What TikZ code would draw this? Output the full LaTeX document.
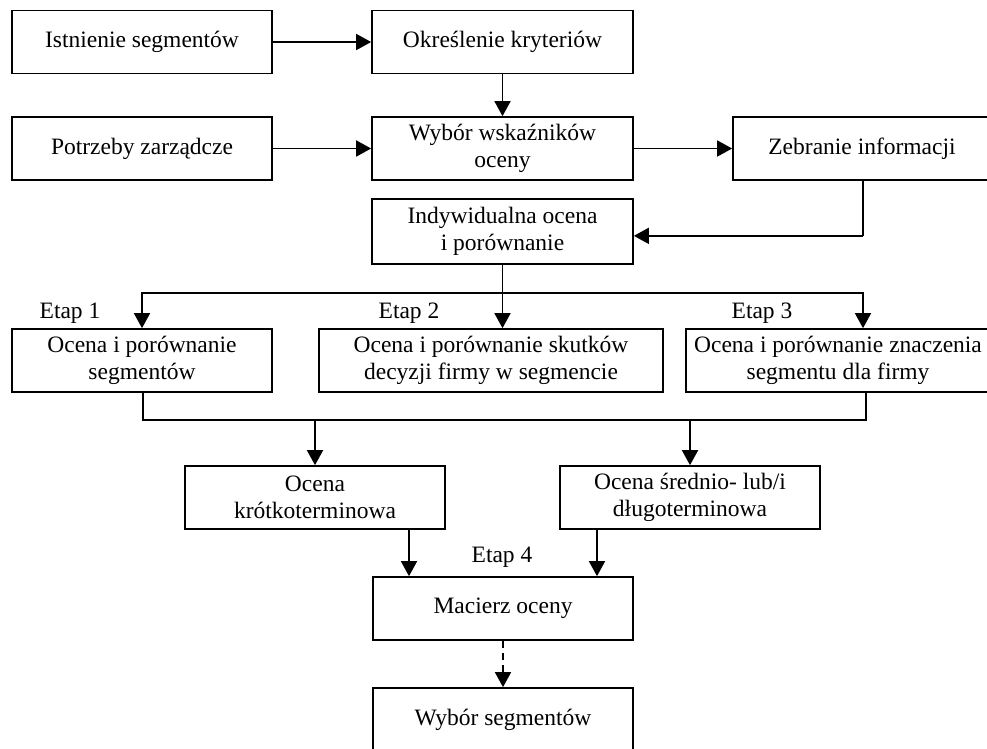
\documentclass[tikz,border=0pt]{standalone}
\usepackage{fontspec}
\setmainfont{Liberation Serif}
\usetikzlibrary{arrows.meta,calc}
\begin{document}
\begin{tikzpicture}[x=1pt,y=-1pt,
  box/.style={draw,line width=1.7pt,inner sep=0pt,align=center,
    font=\fontsize{23.5}{26.5}\selectfont,minimum height=63pt},
  lbl/.style={font=\fontsize{23.5}{26.5}\selectfont,inner sep=0pt},
  conn/.style={line width=1.7pt},
  arr/.style={line width=1.7pt,-{Triangle[length=15pt,width=16pt]}}]
\useasboundingbox (0,0) rectangle (987,748);
% top row
\node[box,minimum width=260pt] (ist) at (142,42) {Istnienie segmentów};
\node[box,minimum width=261pt] (okr) at (502.5,42) {Określenie kryteriów};
\node[box,minimum width=260pt] (pot) at (142,148.5) {Potrzeby zarządcze};
\node[box,minimum width=261pt] (wyb) at (502.5,148.5) {Wybór wskaźników\\oceny};
\node[box,minimum width=258pt] (zeb) at (862,148.5) {Zebranie informacji};
\node[box,minimum width=261pt,minimum height=65pt] (ind) at (502.5,231.5) {Indywidualna ocena\\i porównanie};
% stage row
\node[box,minimum width=260pt] (oc1) at (142,360.5) {Ocena i porównanie\\segmentów};
\node[box,minimum width=344pt] (oc2) at (491,360.5) {Ocena i porównanie skutków\\decyzji firmy w segmencie};
\node[box,minimum width=304pt] (oc3) at (838,360.5) {Ocena i porównanie znaczenia\\segmentu dla firmy};
\node[lbl] (e1) at (70,313) {Etap 1};
\node[lbl] (e2) at (409,313) {Etap 2};
\node[lbl] (e3) at (762,313) {Etap 3};
% lower
\node[box,minimum width=260pt] (kr) at (315,497.5) {Ocena\\krótkoterminowa};
\node[box,minimum width=260pt] (sr) at (690,497.5) {Ocena średnio- lub/i\\długoterminowa};
\node[lbl] (e4) at (502,557) {Etap 4};
\node[box,minimum width=260pt] (mac) at (503,608.5) {Macierz oceny};
\node[box,minimum width=260pt] (ws) at (503,719.5) {Wybór segmentów};
% connectors
\draw[arr] (ist.east) -- (okr.west);
\draw[arr] (okr.south) -- (wyb.north);
\draw[arr] (pot.east) -- (wyb.west);
\draw[arr] (wyb.east) -- (zeb.west);
\coordinate (zd) at ([xshift=1pt]zeb.south);
\coordinate (zl) at ($(zd)+(0,55)$);
\draw[conn] (zd) -- (zl);
\draw[arr] (zl) -- (zl -| ind.east);
\coordinate (sp) at ($(ind.south)+(0,28)$);
\coordinate (o3) at ([xshift=25pt]oc3.north);
\draw[arr] (ind.south) -- (ind.south |- oc2.north);
\draw[arr] (sp) -| (oc1.north);
\draw[arr] (sp) -| (o3);
% merge below stage boxes
\coordinate (m1) at ([xshift=1pt]oc1.south);
\coordinate (m3) at ([xshift=28pt]oc3.south);
\coordinate (mb) at ($(m1)+(0,27)$);
\draw[conn] (m1) -- (mb) -| (m3);
\draw[arr] (mb -| kr.north) -- (kr.north);
\draw[arr] (mb -| sr.north) -- (sr.north);
\coordinate (k1) at ([xshift=94pt]kr.south);
\coordinate (s1) at ([xshift=-93pt]sr.south);
\draw[arr] (k1) -- (k1 |- mac.north);
\draw[arr] (s1) -- (s1 |- mac.north);
\draw[arr,dash pattern=on 7pt off 5pt] (mac.south) -- (ws.north);
\end{tikzpicture}
\end{document}
